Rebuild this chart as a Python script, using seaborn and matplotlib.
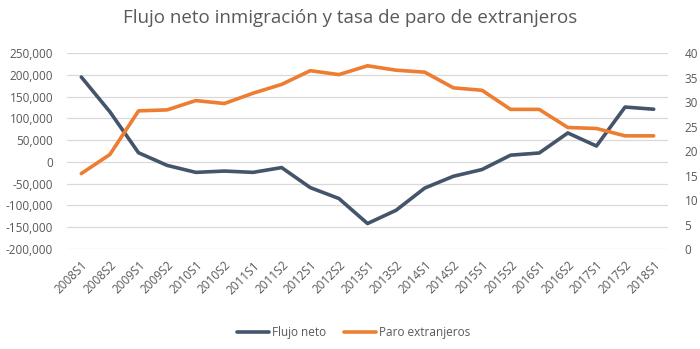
import matplotlib
matplotlib.use("Agg")
import matplotlib.pyplot as plt
import matplotlib.ticker as mticker
import seaborn as sns
import pandas as pd

periods = ["2008S1", "2008S2", "2009S1", "2009S2", "2010S1", "2010S2", "2011S1",
           "2011S2", "2012S1", "2012S2", "2013S1", "2013S2", "2014S1", "2014S2",
           "2015S1", "2015S2", "2016S1", "2016S2", "2017S1", "2017S2", "2018S1"]
flujo_neto = [195000, 115000, 21000, -8000, -24000, -21000, -24000,
              -13000, -59000, -84000, -141500, -111000, -60000, -33000,
              -17500, 15500, 20500, 66500, 36500, 126000, 121000]
paro_extranjeros = [15.4, 19.3, 28.2, 28.4, 30.3, 29.7, 31.8,
                    33.6, 36.4, 35.6, 37.4, 36.5, 36.1, 32.9,
                    32.4, 28.5, 28.5, 24.8, 24.6, 23.1, 23.1]

df = pd.DataFrame({"periodo": periods, "pos": range(len(periods)),
                   "flujo": flujo_neto, "paro": paro_extranjeros})

sns.set_theme(style="white")
plt.rcParams["font.family"] = ["Open Sans", "DejaVu Sans"]

navy = "#44546A"
orange = "#ED7D31"
gray_txt = "#595959"
grid_col = "#D9D9D9"

fig = plt.figure(figsize=(7.0, 3.49), dpi=100)
ax = fig.add_axes([0.0957, 0.2865, 0.8586, 0.5615])
ax2 = ax.twinx()

sns.lineplot(data=df, x="pos", y="flujo", ax=ax, color=navy, linewidth=2.6,
             label="Flujo neto", legend=False)
sns.lineplot(data=df, x="pos", y="paro", ax=ax2, color=orange, linewidth=2.6,
             label="Paro extranjeros", legend=False)

ax.set_ylim(-200000, 250000)
ax.set_yticks(range(-200000, 250001, 50000))
ax.yaxis.set_major_formatter(mticker.FuncFormatter(lambda v, p: f"{int(v):,}"))
ax2.set_ylim(0, 40)
ax2.set_yticks(range(0, 41, 5))
ax.set_xlim(-0.5, len(periods) - 0.5)
ax.set_xticks(range(len(periods)))
ax.set_xticklabels(periods, rotation=45, ha="right", rotation_mode="anchor")

ax.grid(axis="y", color=grid_col, linewidth=0.9)
ax.set_axisbelow(True)
for a in (ax, ax2):
    for s in a.spines.values():
        s.set_visible(False)
    a.tick_params(length=0, colors=gray_txt, labelsize=8.5)
    a.set_xlabel("")
    a.set_ylabel("")
ax.tick_params(axis="y", pad=10)
ax2.tick_params(axis="y", pad=12)
ax.tick_params(axis="x", pad=7)

fig.suptitle("Flujo neto inmigración y tasa de paro de extranjeros",
             x=0.5, y=0.975, fontsize=13.5, color=gray_txt)

h1, l1 = ax.get_legend_handles_labels()
h2, l2 = ax2.get_legend_handles_labels()
fig.legend(h1 + h2, l1 + l2, loc="center", bbox_to_anchor=(0.505, 0.048),
           ncol=2, frameon=False, fontsize=8.5, labelcolor=gray_txt,
           handlelength=2.7, handletextpad=0.25, columnspacing=1.5)

fig.savefig("out.png", dpi=100)
